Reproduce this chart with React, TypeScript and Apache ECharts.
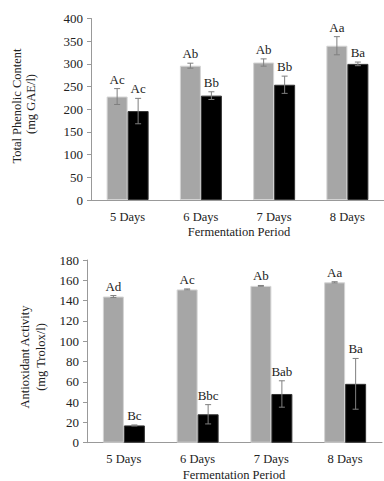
import React, { useEffect, useRef } from "react";
import * as echarts from "echarts";

const days = ["5 Days", "6 Days", "7 Days", "8 Days"];

const tpcTicks = [0, 400, 50];
const tpcGray = [228, 296, 303, 340];
const tpcGrayErr = [17.5, 5.5, 8, 20];
const tpcBlack = [196, 230, 254, 300];
const tpcBlackErr = [28, 8.5, 19, 4];
const tpcGrayLbl = ["Ac", "Ab", "Ab", "Aa"];
const tpcBlackLbl = ["Ac", "Bb", "Bb", "Ba"];

const aoTicks = [0, 180, 20];
const aoGray = [144, 151, 154.5, 158];
const aoGrayErr = [1, 0.5, 0.4, 0.6];
const aoBlack = [17, 28, 48, 58];
const aoBlackErr = [0.5, 9.5, 13, 25];
const aoGrayLbl = ["Ad", "Ac", "Ab", "Aa"];
const aoBlackLbl = ["Bc", "Bbc", "Bab", "Ba"];

const SERIF = '"Liberation Serif", "Times New Roman", serif';
const GRAY = "#a6a6a6";
const BAR_W = 21;

function errSeries(
  vals: number[],
  errs: number[],
  lbls: string[],
  offset: number,
  axisIdx: number
) {
  return {
    type: "custom",
    xAxisIndex: axisIdx,
    yAxisIndex: axisIdx,
    clip: false,
    z: 10,
    data: vals.map((v, i) => [i, v - errs[i], v + errs[i]]),
    renderItem: (params: any, api: any) => {
      const idx = api.value(0);
      const x = api.coord([idx, 0])[0] + offset;
      const yl = api.coord([idx, api.value(1)])[1];
      const yh = api.coord([idx, api.value(2)])[1];
      const c = "#7f7f7f";
      return {
        type: "group",
        children: [
          { type: "line", shape: { x1: x, y1: yl, x2: x, y2: yh }, style: { stroke: c, lineWidth: 1 } },
          { type: "line", shape: { x1: x - 3, y1: yl, x2: x + 3, y2: yl }, style: { stroke: c, lineWidth: 1 } },
          { type: "line", shape: { x1: x - 3, y1: yh, x2: x + 3, y2: yh }, style: { stroke: c, lineWidth: 1 } },
          {
            type: "text",
            x: x,
            y: yh - 3,
            style: {
              text: lbls[params.dataIndex],
              align: "center",
              verticalAlign: "bottom",
              textAlign: "center",
              textVerticalAlign: "bottom",
              fontFamily: SERIF,
              fontSize: 13,
              fill: "#222",
            },
          },
        ],
      };
    },
  };
}

function makeAxes(ticks: number[], idx: number) {
  return {
    x: {
      type: "category",
      gridIndex: idx,
      data: days,
      axisLine: { lineStyle: { color: "#999", width: 1 } },
      axisTick: { show: false },
      axisLabel: { fontFamily: SERIF, fontSize: 12.5, color: "#222", margin: 10 },
    },
    y: {
      type: "value",
      gridIndex: idx,
      min: ticks[0],
      max: ticks[1],
      interval: ticks[2],
      splitLine: { show: false },
      axisLine: { show: true, lineStyle: { color: "#999", width: 1 } },
      axisTick: { show: true, length: 4, lineStyle: { color: "#999" } },
      axisLabel: { fontFamily: SERIF, fontSize: 13, color: "#222", margin: 8 },
    },
  };
}

export default function App() {
  const ref = useRef<HTMLDivElement>(null);
  useEffect(() => {
    if (!ref.current) return;
    const chart = echarts.init(ref.current, undefined, { renderer: "svg" });
    const a1 = makeAxes(tpcTicks, 0);
    const a2 = makeAxes(aoTicks, 1);
    const barBase = (data: number[], color: string, idx: number, border: string) => ({
      type: "bar",
      xAxisIndex: idx,
      yAxisIndex: idx,
      data,
      barWidth: BAR_W,
      barGap: "0%",
      itemStyle: { color, borderColor: border, borderWidth: 1 },
    });
    chart.setOption({
      animation: false,
      backgroundColor: "#fff",
      grid: [
        { left: 91, top: 18.5, width: 295, height: 181.5 },
        { left: 87, top: 260, width: 295, height: 182.7 },
      ],
      xAxis: [a1.x, a2.x],
      yAxis: [a1.y, a2.y],
      series: [
        barBase(tpcGray, GRAY, 0, "#d4d4d4"),
        barBase(tpcBlack, "#000", 0, "#333"),
        barBase(aoGray, GRAY, 1, "#d4d4d4"),
        barBase(aoBlack, "#000", 1, "#333"),
        errSeries(tpcGray, tpcGrayErr, tpcGrayLbl, -BAR_W / 2, 0),
        errSeries(tpcBlack, tpcBlackErr, tpcBlackLbl, BAR_W / 2, 0),
        errSeries(aoGray, aoGrayErr, aoGrayLbl, -BAR_W / 2, 1),
        errSeries(aoBlack, aoBlackErr, aoBlackLbl, BAR_W / 2, 1),
      ],
      graphic: [
        {
          type: "text",
          x: 17,
          y: 106,
          rotation: Math.PI / 2,
          style: { text: "Total Phenolic Content", align: "center", verticalAlign: "middle", fontFamily: SERIF, fontSize: 12.5, fill: "#222" },
        },
        {
          type: "text",
          x: 31,
          y: 104,
          rotation: Math.PI / 2,
          style: { text: "(mg GAE/l)", align: "center", verticalAlign: "middle", fontFamily: SERIF, fontSize: 12.5, fill: "#222" },
        },
        {
          type: "text",
          x: 239,
          y: 232,
          style: { text: "Fermentation Period", align: "center", verticalAlign: "middle", fontFamily: SERIF, fontSize: 12.5, fill: "#222" },
        },
        {
          type: "text",
          x: 25,
          y: 357,
          rotation: Math.PI / 2,
          style: { text: "Antioxidant Activity", align: "center", verticalAlign: "middle", fontFamily: SERIF, fontSize: 12.5, fill: "#222" },
        },
        {
          type: "text",
          x: 41,
          y: 357,
          rotation: Math.PI / 2,
          style: { text: "(mg Trolox/l)", align: "center", verticalAlign: "middle", fontFamily: SERIF, fontSize: 12.5, fill: "#222" },
        },
        {
          type: "text",
          x: 234,
          y: 475,
          style: { text: "Fermentation Period", align: "center", verticalAlign: "middle", fontFamily: SERIF, fontSize: 12.5, fill: "#222" },
        },
      ],
    });
    return () => chart.dispose();
  }, []);
  return <div ref={ref} style={{ position: "absolute", left: 0, top: 0, width: 384, height: 481 }} />;
}
